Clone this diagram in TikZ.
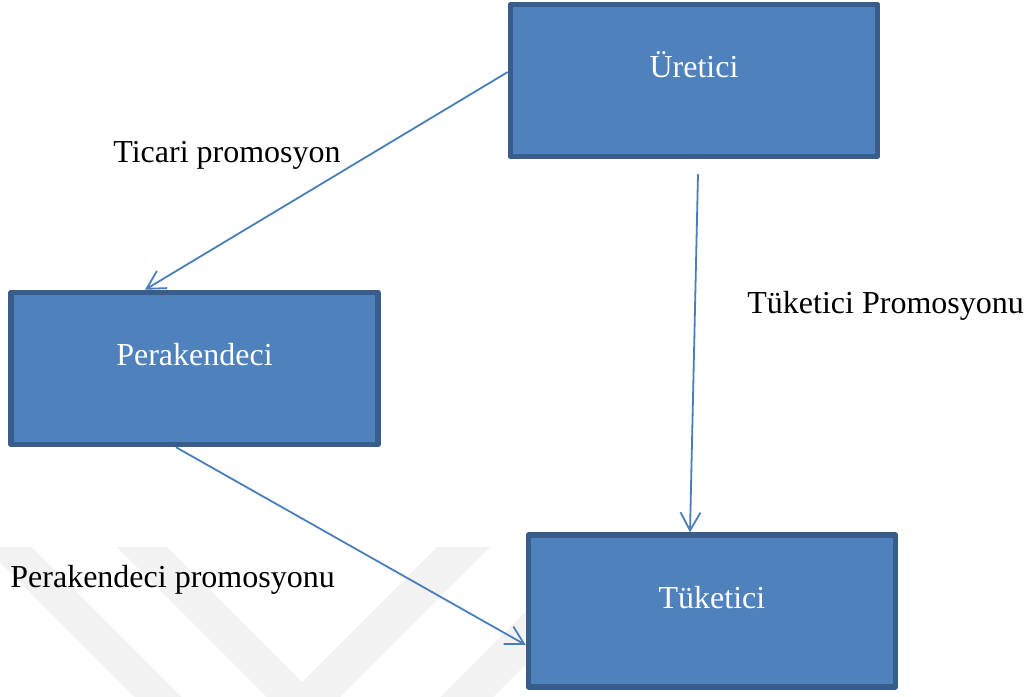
\documentclass[tikz,border=0pt]{standalone}
\usepackage{fontspec}
\setmainfont{Liberation Serif}
\usetikzlibrary{arrows.meta}
\definecolor{boxfill}{HTML}{4F81BD}
\definecolor{boxline}{HTML}{385D8A}
\definecolor{flowline}{HTML}{4A7EBB}
\definecolor{markgray}{HTML}{F2F2F2}

\begin{document}
\begin{tikzpicture}[x=0.5pt, y=-0.5pt, line join=round,
  actor/.style={draw=boxline, line width=2.75pt, fill=boxfill, text=white,
    minimum width=183.5pt, minimum height=76pt, text height=12pt, text depth=15pt,
    font=\fontsize{16}{19}\selectfont},
  flow/.style={draw=flowline, line width=0.9pt, -{Straight Barb[length=9pt,width=10pt]}},
  tag/.style={anchor=base west, inner sep=0pt, font=\fontsize{16}{19}\selectfont}]

  \useasboundingbox (0,0) rectangle (1030,697);

  % Faint watermark behind the diagram
  \begin{scope}
    \clip (0,0) rectangle (1030,697);
    \fill[markgray] (-15,547) -- (32,547) -- (182,697) -- (135,697) -- cycle;
    \fill[markgray] (117,547) -- (167,547) -- (302,682) -- (437,547) -- (490,547) -- (303.5,733.5) -- cycle;
    \fill[markgray] (590,547) -- (643,547) -- (493,697) -- (440,697) -- cycle;
  \end{scope}

  % Actors
  \node[actor] (ure) at (694,80.5) {Üretici};
  \node[actor] (per) at (194.5,368.5) {Perakendeci};
  \node[actor] (tuk) at (712,611) {Tüketici};

  % Promotion labels
  \node[tag] (ticari) at (113,162) {Ticari promosyon};
  \node[tag] (tukpro) at (747,313) {Tüketici Promosyonu};
  \node[tag] (perpro) at (10,587) {Perakendeci promosyonu};

  % Promotion flows
  \draw[flow] ([yshift=4.25pt]ure.west) -- ([xshift=-24.75pt]per.north);
  \draw[flow] ([xshift=2pt,yshift=-7.5pt]ure.south) -- ([xshift=-11pt]tuk.north);
  \draw[flow] ([xshift=-9.25pt]per.south) -- ([yshift=-17pt]tuk.west);

\end{tikzpicture}
\end{document}
